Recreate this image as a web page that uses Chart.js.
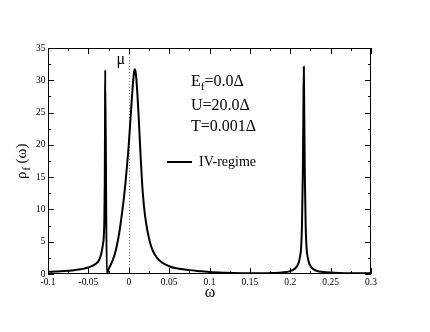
<!DOCTYPE html>
<html>
<head>
<meta charset="utf-8">
<script src="https://cdn.jsdelivr.net/npm/chart.js@4/dist/chart.umd.min.js"></script>
<style>
  body { margin: 0; background: #fff; }
  canvas { display: block; }
</style>
</head>
<body>
<canvas id="dos" width="430" height="332"></canvas>
<script>
// spectral density
const omega = [
  -0.100, -0.090, -0.080, -0.070, -0.060, -0.055, -0.050, -0.045, -0.040, -0.037,
  -0.035, -0.033, -0.032, -0.031, -0.0302, -0.0297, -0.0294, -0.0292, -0.0272,
  -0.0245, -0.0205, -0.0175, -0.0156, -0.012, -0.0086, -0.006, -0.004, -0.002,
  0.000, 0.0015, 0.003, 0.005, 0.0065, 0.0075, 0.0088, 0.0105, 0.0121, 0.0135,
  0.0150, 0.0162, 0.0175, 0.0200, 0.0236, 0.0265, 0.0298, 0.035, 0.0422, 0.050,
  0.0588, 0.075, 0.090, 0.100, 0.120, 0.140, 0.160, 0.180, 0.190, 0.200, 0.205,
  0.208, 0.210, 0.212, 0.2135, 0.2145, 0.2155, 0.2162, 0.2168, 0.2174, 0.2181,
  0.2191, 0.2201, 0.2216, 0.2236, 0.2256, 0.2286, 0.2336, 0.240, 0.250, 0.260,
  0.280, 0.300
];
const rho = [
  0.33, 0.38, 0.45, 0.56, 0.72, 0.85, 1.0, 1.25, 1.65, 2.1,
  2.7, 3.8, 4.6, 5.6, 8.5, 14, 22, 31.6, 0,
  0.9, 1.9, 3.0, 3.9, 6.2, 9.2, 11.8, 14.2, 17.0,
  20.0, 22.8, 25.6, 29.2, 31.2, 31.7, 31.0, 28.3, 24.8, 21.2,
  17.5, 14.8, 12.4, 9.2, 6.4, 4.8, 3.6, 2.5, 1.7, 1.2,
  0.88, 0.6, 0.42, 0.30, 0.19, 0.13, 0.11, 0.16, 0.24, 0.45, 0.75,
  1.15, 1.6, 2.6, 4.2, 7.5, 15, 24, 32.1, 24, 15,
  7.5, 4.2, 2.6, 1.6, 1.15, 0.75, 0.45, 0.32, 0.22, 0.17,
  0.12, 0.1
];

const xTickValues = [-0.1, -0.05, 0, 0.05, 0.1, 0.15, 0.2, 0.25, 0.3];
const xTickLabels = ["-0.1", "-0.05", "0", "0.05", "0.1", "0.15", "0.2", "0.25", "0.3"];
const yTickValues = [0, 5, 10, 15, 20, 25, 30, 35];
const yTickLabels = ["0", "5", "10", "15", "20", "25", "30", "35"];

const serif = '"Liberation Serif", "DejaVu Serif", serif';

// frame, inward ticks on four sides, mu line and the text
const decor = {
  id: 'decor',
  beforeDatasetsDraw(chart) {
    let ctx = chart.ctx, a = chart.chartArea;
    let xs = chart.scales.x;
    let x0 = Math.round(xs.getPixelForValue(0)) + 0.5;
    ctx.save();
    ctx.strokeStyle = '#888';
    ctx.lineWidth = 1;
    ctx.setLineDash([1, 2]);
    ctx.beginPath();
    ctx.moveTo(x0, a.top);
    ctx.lineTo(x0, a.bottom);
    ctx.stroke();
    ctx.restore();
  },
  afterDraw(chart) {
    let ctx = chart.ctx, a = chart.chartArea;
    let xs = chart.scales.x, ys = chart.scales.y;
    ctx.save();
    ctx.strokeStyle = '#000';
    ctx.lineWidth = 1;
    ctx.strokeRect(a.left + 0.5, a.top + 0.5, a.right - a.left - 1, a.bottom - a.top - 1);

    ctx.beginPath();
    for (let i = 0; i < xTickValues.length; i++) {
      let v = xTickValues[i];
      let px = Math.round(xs.getPixelForValue(v)) + 0.5;
      ctx.moveTo(px, a.bottom); ctx.lineTo(px, a.bottom - 6);
      ctx.moveTo(px, a.top); ctx.lineTo(px, a.top + 6);
      if (i < xTickValues.length - 1) {
        let m = Math.round(xs.getPixelForValue((v + xTickValues[i + 1]) / 2)) + 0.5;
        ctx.moveTo(m, a.bottom); ctx.lineTo(m, a.bottom - 3);
        ctx.moveTo(m, a.top); ctx.lineTo(m, a.top + 3);
      }
    }
    for (let i = 0; i < yTickValues.length; i++) {
      let v = yTickValues[i];
      let py = Math.round(ys.getPixelForValue(v)) + 0.5;
      ctx.moveTo(a.left, py); ctx.lineTo(a.left + 6, py);
      ctx.moveTo(a.right, py); ctx.lineTo(a.right - 6, py);
      if (i < yTickValues.length - 1) {
        let m = Math.round(ys.getPixelForValue((v + yTickValues[i + 1]) / 2)) + 0.5;
        ctx.moveTo(a.left, m); ctx.lineTo(a.left + 3, m);
        ctx.moveTo(a.right, m); ctx.lineTo(a.right - 3, m);
      }
    }
    ctx.stroke();

    ctx.fillStyle = '#000';
    ctx.textBaseline = 'alphabetic';

    // mu over the dotted line
    ctx.font = '16px ' + serif;
    ctx.textAlign = 'center';
    ctx.fillText('μ', xs.getPixelForValue(0) - 8, 64);

    // x title
    ctx.fillText('ω', 210, 297);

    // parameters
    ctx.textAlign = 'left';
    ctx.font = '16px ' + serif;
    ctx.fillText('E', 191, 86);
    let w = ctx.measureText('E').width;
    ctx.font = '11px ' + serif;
    ctx.fillText('f', 191 + w, 90);
    let w2 = ctx.measureText('f').width;
    ctx.font = '16px ' + serif;
    ctx.fillText('=0.0Δ', 191 + w + w2, 86);
    ctx.fillText('U=20.0Δ', 191, 110);
    ctx.fillText('T=0.001Δ', 191, 131);

    // legend
    ctx.lineWidth = 2;
    ctx.beginPath();
    ctx.moveTo(167, 162);
    ctx.lineTo(192, 162);
    ctx.stroke();
    ctx.font = '14px ' + serif;
    ctx.fillText('IV-regime', 199, 166);

    // y title, rotated
    ctx.translate(26, 179);
    ctx.rotate(-Math.PI / 2);
    ctx.font = '15px ' + serif;
    ctx.fillText('ρ', 0, 0);
    let r = ctx.measureText('ρ').width;
    ctx.font = '10px ' + serif;
    ctx.fillText('f', r + 1, 4);
    let f = ctx.measureText('f').width;
    ctx.font = '15px ' + serif;
    ctx.fillText(' (ω)', r + f + 1, 0);
    ctx.restore();
  }
};

new Chart(document.getElementById('dos'), {
  type: 'line',
  data: {
    datasets: [{
      label: 'IV-regime',
      data: omega.map((x, i) => ({ x: x, y: rho[i] })),
      borderColor: '#000',
      borderWidth: 2,
      pointRadius: 0,
      fill: false,
      cubicInterpolationMode: 'monotone'
    }]
  },
  options: {
    responsive: false,
    animation: false,
    devicePixelRatio: 1,
    layout: { padding: { left: 0, top: 48, right: 59, bottom: 0 } },
    plugins: { legend: { display: false }, tooltip: { enabled: false } },
    scales: {
      x: {
        type: 'linear', min: -0.1, max: 0.3,
        afterBuildTicks: s => { s.ticks = xTickValues.map(v => ({ value: v })); },
        afterFit: s => { s.height = 58; },
        grid: { display: false, drawTicks: false },
        border: { display: false },
        ticks: {
          callback: (v, i) => xTickLabels[i],
          color: '#000', padding: 3, maxRotation: 0, autoSkip: false,
          font: { family: serif, size: 9.5 }
        }
      },
      y: {
        type: 'linear', min: 0, max: 35,
        afterBuildTicks: s => { s.ticks = yTickValues.map(v => ({ value: v })); },
        afterFit: s => { s.width = 48; },
        grid: { display: false, drawTicks: false },
        border: { display: false },
        ticks: {
          callback: (v, i) => yTickLabels[i],
          color: '#000', padding: 2.5, autoSkip: false,
          font: { family: serif, size: 9.5 }
        }
      }
    }
  },
  plugins: [decor]
});
</script>
</body>
</html>
